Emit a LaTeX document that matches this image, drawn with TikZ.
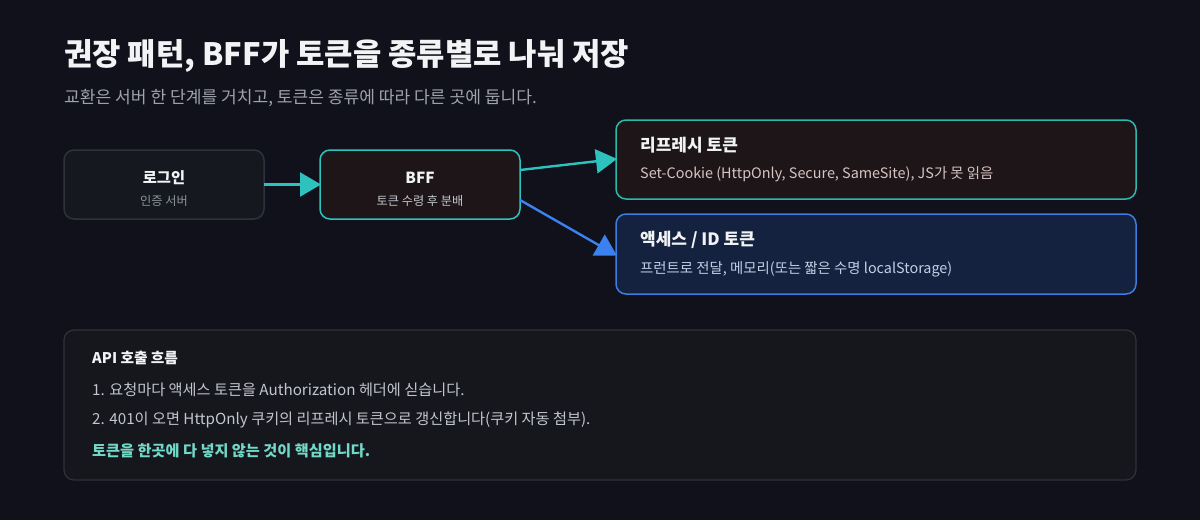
\documentclass[tikz,border=0pt]{standalone}
\usepackage{fontspec}
\setmainfont{Noto Sans CJK KR}
\usetikzlibrary{arrows.meta}
\definecolor{bg}{HTML}{10111A}
\definecolor{loginfill}{HTML}{15181E}
\definecolor{loginline}{HTML}{2E323C}
\definecolor{warmfill}{HTML}{1D1517}
\definecolor{teal}{HTML}{2EC2BF}
\definecolor{tealbox}{HTML}{2DB8AE}
\definecolor{bluefill}{HTML}{14213F}
\definecolor{blueline}{HTML}{3B7DE0}
\definecolor{bluearrow}{HTML}{3B82F0}
\definecolor{panelfill}{HTML}{15171C}
\definecolor{panelline}{HTML}{2E323A}
\definecolor{titlec}{HTML}{F2F3F5}
\definecolor{subc}{HTML}{9EA3AD}
\definecolor{smallc}{HTML}{8E939C}
\definecolor{pinkc}{HTML}{D6C4C4}
\definecolor{bluetc}{HTML}{C4CEE4}
\definecolor{bodyc}{HTML}{C2C6CD}
\definecolor{hlc}{HTML}{72D8C8}
\tikzset{
  x=1pt, y=-1pt,
  box/.style={draw, line width=1.5pt, rounded corners=10pt},
  ttl/.style={anchor=west, inner sep=0pt, text=titlec, font=\fontsize{15}{18}\selectfont\bfseries},
  ctr/.style={anchor=center, inner sep=0pt},
  flow/.style={line width=2.4pt, -{Triangle[length=21pt,width=24pt]}, shorten >=-1pt},
}
\begin{document}
\begin{tikzpicture}
\fill[bg] (0,0) rectangle (1200,520);
\useasboundingbox (0,0) rectangle (1200,520);
% heading
\node[anchor=west, inner sep=0pt, text=titlec, font=\fontsize{30.8}{34}\selectfont\bfseries] (title) at (64,56) {권장 패턴, BFF가 토큰을 종류별로 나눠 저장};
\node[anchor=west, inner sep=0pt, text=subc, font=\fontsize{17.1}{20}\selectfont] (subtitle) at (64,98) {교환은 서버 한 단계를 거치고, 토큰은 종류에 따라 다른 곳에 둡니다.};
% boxes
\draw[box, draw=loginline, fill=loginfill] (64,150) rectangle (264,219);
\coordinate (loginE) at (264,184.5);
\node[ctr, text=titlec, font=\fontsize{15.3}{18}\selectfont\bfseries] (login) at (164,178) {로그인};
\node[ctr, text=smallc, font=\fontsize{12.2}{14}\selectfont] (loginsub) at (164,201) {인증 서버};
\draw[box, draw=teal, fill=warmfill] (320,150) rectangle (520,219);
\coordinate (bffW) at (320,184.5);
\coordinate (bffE1) at (520,170);
\coordinate (bffE2) at (520,200);
\node[ctr, text=titlec, font=\fontsize{15.3}{18}\selectfont\bfseries] (bff) at (420,178) {BFF};
\node[ctr, text=bodyc, font=\fontsize{12.2}{14}\selectfont] (bffsub) at (420,201) {토큰 수령 후 분배};
\draw[box, draw=tealbox, fill=warmfill] (616,120) rectangle (1136,199);
\coordinate (refW) at (616,159);
\node[ttl, font=\fontsize{17}{20}\selectfont\bfseries] (ref) at (640,145) {리프레시 토큰};
\node[anchor=west, inner sep=0pt, text=pinkc, font=\fontsize{14.4}{17}\selectfont] (refsub) at (640,174) {Set-Cookie (HttpOnly, Secure, SameSite), JS가 못 읽음};
\draw[box, draw=blueline, fill=bluefill] (616,214) rectangle (1136,294);
\coordinate (accW) at (616,255);
\node[ttl, font=\fontsize{17}{20}\selectfont\bfseries] (acc) at (640,240) {액세스 / ID 토큰};
\node[anchor=west, inner sep=0pt, text=bluetc, font=\fontsize{14.4}{17}\selectfont] (accsub) at (640,269) {프런트로 전달, 메모리(또는 짧은 수명 localStorage)};
% connectors
\draw[flow, teal] (loginE) -- (bffW);
\draw[flow, teal] (bffE1) -- (refW);
\draw[flow, bluearrow] (bffE2) -- (accW);
% bottom panel
\draw[line width=1.2pt, rounded corners=10pt, draw=panelline, fill=panelfill] (64,330) rectangle (1136,480);
\node[ttl, font=\fontsize{14.7}{18}\selectfont\bfseries] (apih) at (92,358) {API 호출 흐름};
\node[anchor=west, inner sep=0pt, text=bodyc, font=\fontsize{15.2}{18}\selectfont] (l1) at (92,390) {1. 요청마다 액세스 토큰을 Authorization 헤더에 싣습니다.};
\node[anchor=west, inner sep=0pt, text=bodyc, font=\fontsize{15.2}{18}\selectfont] (l2) at (92,420) {2. 401이 오면 HttpOnly 쿠키의 리프레시 토큰으로 갱신합니다(쿠키 자동 첨부).};
\node[anchor=west, inner sep=0pt, text=hlc, font=\fontsize{15.2}{18}\selectfont\bfseries] (l3) at (92,451) {토큰을 한곳에 다 넣지 않는 것이 핵심입니다.};
\end{tikzpicture}
\end{document}
